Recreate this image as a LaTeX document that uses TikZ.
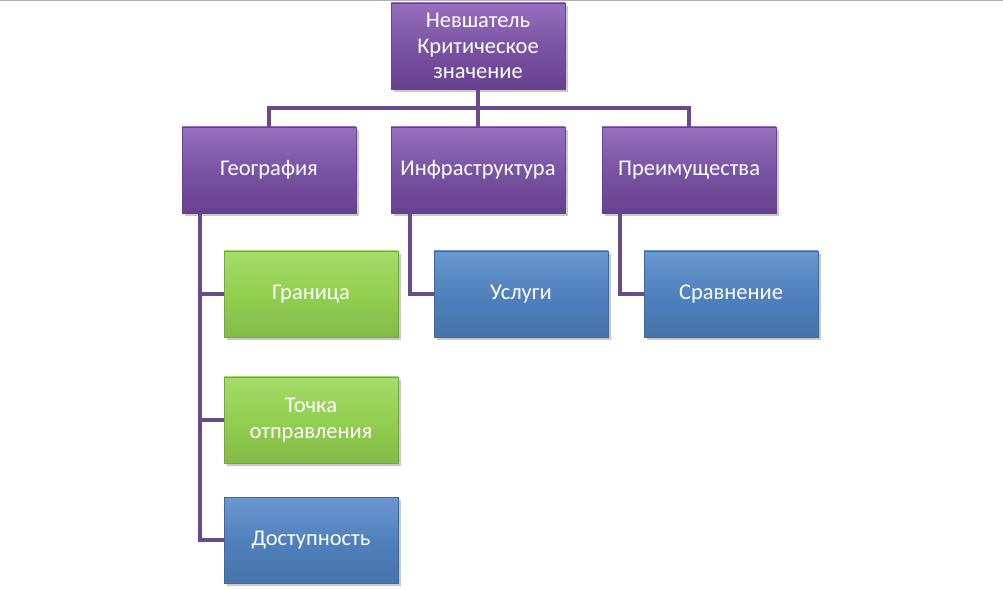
\documentclass[tikz,border=0pt]{standalone}
\usepackage{fontspec}
\setmainfont{Carlito}
\usetikzlibrary{shadows}
\definecolor{purpA}{HTML}{9670BE}
\definecolor{purpB}{HTML}{7A54A4}
\definecolor{purpC}{HTML}{67418F}
\definecolor{grnA}{HTML}{A6DC6A}
\definecolor{grnB}{HTML}{92CF50}
\definecolor{bluA}{HTML}{6A98D0}
\definecolor{bluB}{HTML}{4F81BD}
\definecolor{linec}{HTML}{6A4A8A}
\tikzset{
  box/.style={minimum width=174*0.02cm, minimum height=86*0.02cm, inner sep=1pt,
    align=center, text=white, font=\fontsize{12.8}{14.5}\selectfont,
    drop shadow={shadow xshift=1.5pt, shadow yshift=-1.5pt, opacity=0.35, fill=black!60}},
  purp/.style={box, draw=purpC, line width=0.4pt, top color=purpA, bottom color=purpC, middle color=purpB},
  grn/.style={box, draw=grnB!80!black, line width=0.4pt, top color=grnA, bottom color=grnB!90!black, middle color=grnB},
  blu/.style={box, draw=bluB!80!black, line width=0.4pt, top color=bluA, bottom color=bluB!90!black, middle color=bluB},
  conn/.style={draw=linec, line width=1.8pt}
}
\begin{document}
\begin{tikzpicture}[x=0.02cm, y=-0.02cm]
\useasboundingbox (0,0) rectangle (1003,590);
\fill[white] (0,0) rectangle (1003,590);
\draw[gray!60, line width=1pt] (0,0.5) -- (1003,0.5);
\coordinate (j) at (478,108);
\node[purp] (top) at (478,46) {Невшатель\\Критическое\\значение};
\node[purp] (geo) at (269,170) {География};
\node[purp] (inf) at (478,170) {Инфраструктура};
\node[purp] (pre) at (689,170) {Преимущества};
\node[grn] (gr) at (311,294) {Граница};
\node[grn] (tp) at (311,420) {Точка\\отправления};
\node[blu] (ds) at (311,540) {Доступность};
\node[blu] (us) at (521,294) {Услуги};
\node[blu] (sr) at (731,294) {Сравнение};
\draw[conn] (top.south) -- (j);
\draw[conn] (geo.north) |- (j) -| (pre.north);
\draw[conn] (j) -- (inf.north);
\draw[conn] ([xshift=-69*0.02cm]geo.south) |- (gr.west);
\draw[conn] ([xshift=-69*0.02cm]geo.south) |- (tp.west);
\draw[conn] ([xshift=-69*0.02cm]geo.south) |- (ds.west);
\draw[conn] ([xshift=-68*0.02cm]inf.south) |- (us.west);
\draw[conn] ([xshift=-69*0.02cm]pre.south) |- (sr.west);
\end{tikzpicture}
\end{document}
